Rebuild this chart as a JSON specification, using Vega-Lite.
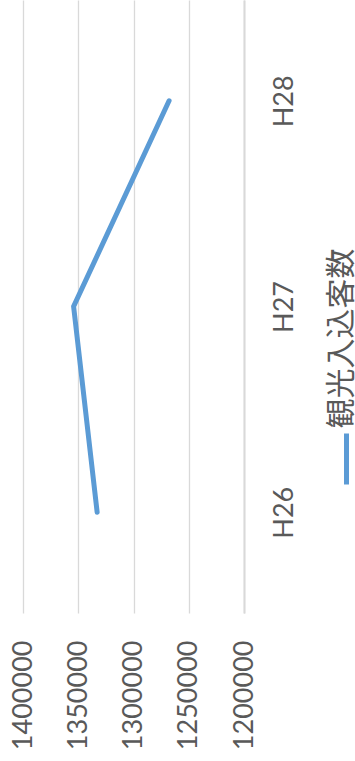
{
  "$schema": "https://vega.github.io/schema/vega-lite/v6.json",
  "autosize": "none",
  "width": 221,
  "height": 613,
  "padding": {"left": 23, "top": 0, "right": 111, "bottom": 148},
  "background": "white",
  "config": {"view": {"stroke": null}},
  "data": {"values": [
    {"year": "H26", "visitors": 1332900, "series": "観光入込客数"},
    {"year": "H27", "visitors": 1354200, "series": "観光入込客数"},
    {"year": "H28", "visitors": 1267800, "series": "観光入込客数"}
  ]},
  "mark": {"type": "line", "strokeWidth": 5, "strokeCap": "round", "strokeJoin": "miter"},
  "encoding": {
    "x": {
      "field": "visitors", "type": "quantitative",
      "scale": {"domain": [1200000, 1400000], "reverse": true, "nice": false, "zero": false},
      "axis": {
        "orient": "bottom", "title": null, "values": [1200000, 1250000, 1300000, 1350000, 1400000],
        "format": "d", "grid": true, "gridColor": "#d9d9d9", "gridWidth": 1.3,
        "domain": false, "ticks": false, "labelAngle": -90, "labelAlign": "right", "labelBaseline": "middle",
        "labelPadding": 27, "labelFont": "Lato", "labelFontSize": 27, "labelColor": "#595959"
      }
    },
    "y": {
      "field": "year", "type": "ordinal",
      "scale": {"type": "point", "domain": ["H28", "H27", "H26"], "padding": 0.49},
      "axis": {
        "orient": "right", "grid": false, "ticks": false, "domain": true, "domainColor": "#d9d9d9", "domainWidth": 2,
        "labelAngle": -90, "labelAlign": "center", "labelBaseline": "top", "labelPadding": 27,
        "labelFont": "Lato", "labelFontSize": 27, "labelColor": "#595959",
        "title": "観光入込客数", "titleAngle": -90, "titleAlign": "center", "titleBaseline": "middle",
        "titleX": 97, "titleY": 338, "titleFont": "Noto Sans CJK JP", "titleFontSize": 30,
        "titleFontWeight": "normal", "titleColor": "#595959"
      }
    },
    "color": {
      "field": "series", "type": "nominal",
      "scale": {"range": ["#5b9bd5"]},
      "legend": {
        "orient": "none", "legendX": 295.5, "legendY": 431, "padding": 0, "title": null,
        "symbolType": "M0,-1L0,1", "symbolSize": 2601, "symbolStrokeWidth": 5,
        "labelExpr": "''", "labelFontSize": 1
      }
    }
  }
}
